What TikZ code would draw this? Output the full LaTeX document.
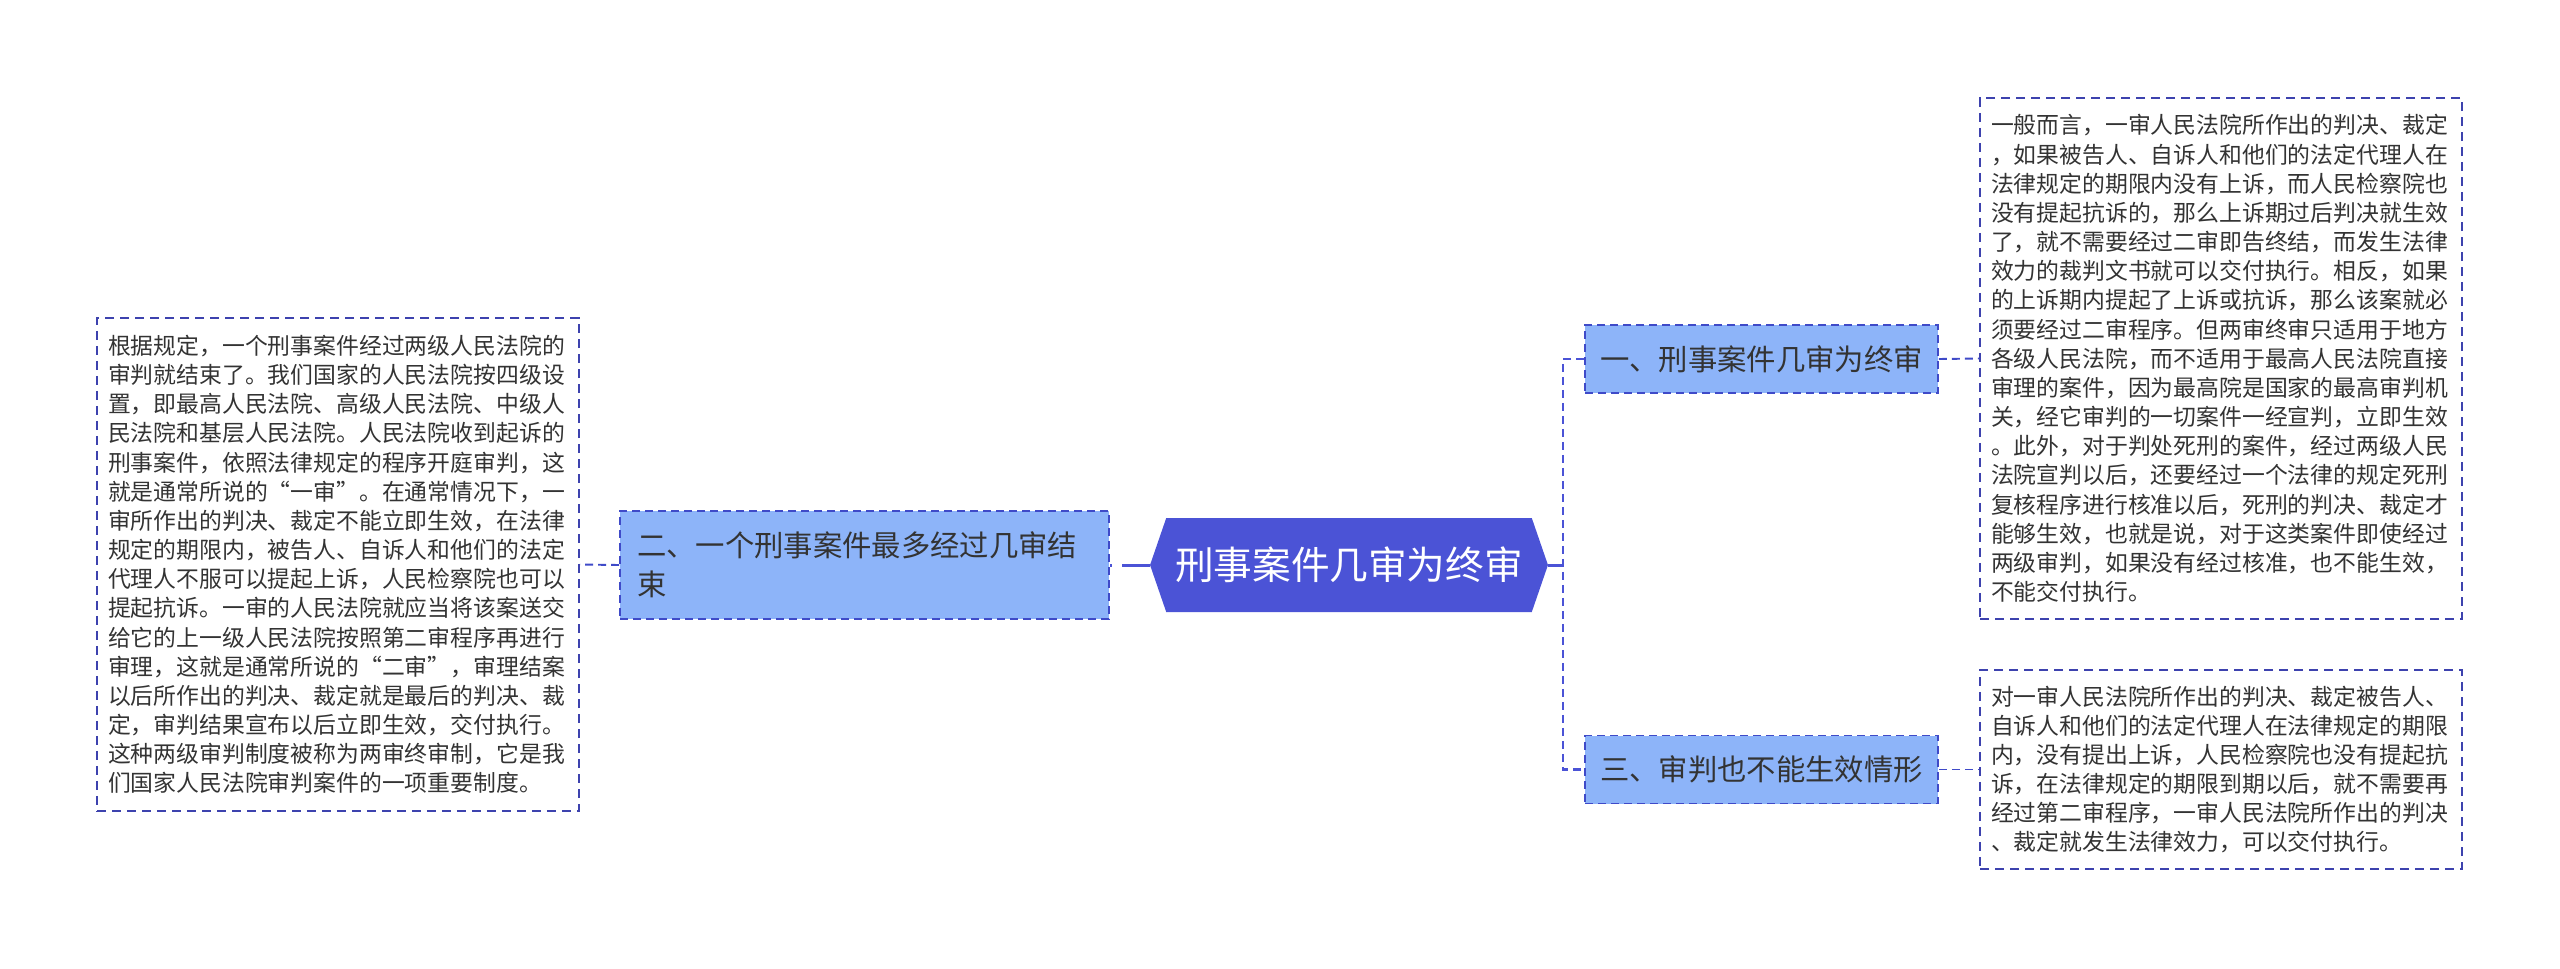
\documentclass[tikz,border=0pt]{standalone}
\usepackage{fontspec}
\newfontfamily\cjk{Noto Sans CJK SC}
\usetikzlibrary{shapes.symbols}
\definecolor{rootblue}{HTML}{4B53D6}
\definecolor{branchfill}{HTML}{8DB4F9}
\definecolor{branchline}{HTML}{3F4AC8}
\definecolor{noteline}{HTML}{3D42AE}
\definecolor{inkgray}{HTML}{333333}

\begin{document}
\begin{tikzpicture}[x=0.02cm,y=-0.02cm,
  rootnode/.style={signal,signal to=west and east,signal pointer angle=142,fill=rootblue,text=white,
    inner sep=0pt,minimum width=7.96cm,minimum height=1.88cm,font=\cjk\fontsize{22pt}{26pt}\selectfont},
  branch/.style={draw=branchline,fill=branchfill,dash pattern=on 0.16cm off 0.1cm,line width=1pt,
    text=inkgray,inner xsep=0.3cm,minimum height=1.36cm,font=\cjk\fontsize{16.7pt}{22.2pt}\selectfont},
  note/.style={draw=noteline,dash pattern=on 0.18cm off 0.12cm,line width=0.9pt,text=inkgray,
    align=left,text width=9.2cm,inner xsep=0.22cm,font=\cjk\fontsize{13pt}{16.6pt}\selectfont},
  link/.style={draw=rootblue,line width=1.7pt},
  thinlink/.style={draw=branchline,line width=1.1pt,dash pattern=on 0.16cm off 0.1cm}]
  \useasboundingbox (0,0) rectangle (2560,968);
  % centre and its three branches
  \node[rootnode] (root) at (1349,565) {刑事案件几审为终审};
  \node[branch,align=left,text width=9.1cm,inner xsep=0.34cm,minimum height=2.16cm] (lbranch) at (864.5,565)
    {二、一个刑事案件最多经过几审结\\束};
  \node[branch,minimum width=7.06cm] (rbranch1) at (1761.5,359) {一、刑事案件几审为终审};
  \node[branch,minimum width=7.06cm] (rbranch3) at (1761.5,769.5) {三、审判也不能生效情形};
  \coordinate (hub) at (1563,565);
  % notes
  \node[note,minimum height=9.86cm] (lnote) at (338,564.5)
    {根据规定，一个刑事案件经过两级人民法院的\\
     审判就结束了。我们国家的人民法院按四级设\\
     置，即最高人民法院、高级人民法院、中级人\\
     民法院和基层人民法院。人民法院收到起诉的\\
     刑事案件，依照法律规定的程序开庭审判，这\\
     就是通常所说的“一审”。在通常情况下，一\\
     审所作出的判决、裁定不能立即生效，在法律\\
     规定的期限内，被告人、自诉人和他们的法定\\
     代理人不服可以提起上诉，人民检察院也可以\\
     提起抗诉。一审的人民法院就应当将该案送交\\
     给它的上一级人民法院按照第二审程序再进行\\
     审理，这就是通常所说的“二审”，审理结案\\
     以后所作出的判决、裁定就是最后的判决、裁\\
     定，审判结果宣布以后立即生效，交付执行。\\
     这种两级审判制度被称为两审终审制，它是我\\
     们国家人民法院审判案件的一项重要制度。};
  \node[note,minimum height=10.42cm] (rnote1) at (2221,358.5)
    {一般而言，一审人民法院所作出的判决、裁定\\
     ，如果被告人、自诉人和他们的法定代理人在\\
     法律规定的期限内没有上诉，而人民检察院也\\
     没有提起抗诉的，那么上诉期过后判决就生效\\
     了，就不需要经过二审即告终结，而发生法律\\
     效力的裁判文书就可以交付执行。相反，如果\\
     的上诉期内提起了上诉或抗诉，那么该案就必\\
     须要经过二审程序。但两审终审只适用于地方\\
     各级人民法院，而不适用于最高人民法院直接\\
     审理的案件，因为最高院是国家的最高审判机\\
     关，经它审判的一切案件一经宣判，立即生效\\
     。此外，对于判处死刑的案件，经过两级人民\\
     法院宣判以后，还要经过一个法律的规定死刑\\
     复核程序进行核准以后，死刑的判决、裁定才\\
     能够生效，也就是说，对于这类案件即使经过\\
     两级审判，如果没有经过核准，也不能生效，\\
     不能交付执行。};
  \node[note,minimum height=3.98cm] (rnote3) at (2221,769.5)
    {对一审人民法院所作出的判决、裁定被告人、\\
     自诉人和他们的法定代理人在法律规定的期限\\
     内，没有提出上诉，人民检察院也没有提起抗\\
     诉，在法律规定的期限到期以后，就不需要再\\
     经过第二审程序，一审人民法院所作出的判决\\
     、裁定就发生法律效力，可以交付执行。};
  % connectors
  \draw[link,dash pattern=on 0.56cm off 0.2cm] (root.west) -- (lbranch.east);
  \draw[link] (root.east) -- (hub);
  \draw[thinlink,draw=rootblue,line width=1.4pt] (rbranch1.west) -| (hub) |- (rbranch3.west);
  \draw[thinlink] (lbranch.west) -- (lnote.east);
  \draw[thinlink] (rbranch1.east) -- (rnote1.west);
  \draw[thinlink] (rbranch3.east) -- (rnote3.west);
\end{tikzpicture}
\end{document}
